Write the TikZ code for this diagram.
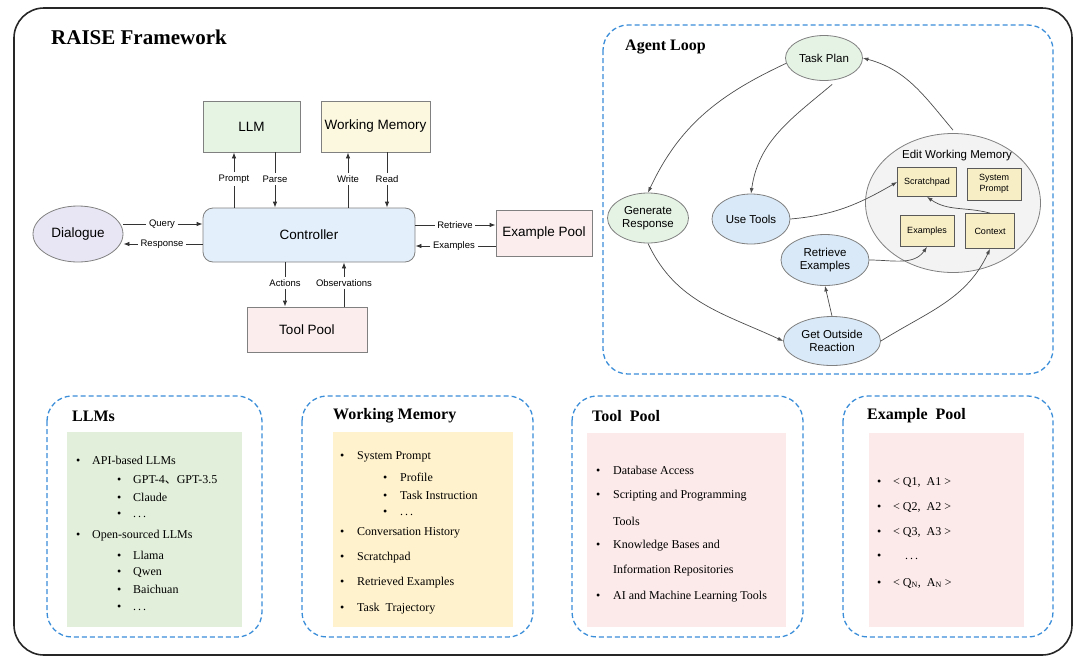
\documentclass[tikz,border=0pt]{standalone}
\usepackage{fontspec}
\setmainfont{Liberation Serif}
\setsansfont{Liberation Sans}
\newfontfamily\cjk{Noto Sans CJK SC}
\usepackage{tikz}
\usetikzlibrary{arrows.meta,shapes.geometric}

\definecolor{PanelBlue}{HTML}{3A8DD8}
\definecolor{LLMGreen}{HTML}{E6F4E4}
\definecolor{WMYellow}{HTML}{FBF8DF}
\definecolor{CtrlBlue}{HTML}{E3EFFA}
\definecolor{DlgPurple}{HTML}{E8E6F4}
\definecolor{PoolPink}{HTML}{FBEDED}
\definecolor{PlanGreen}{HTML}{E5F3E5}
\definecolor{StepBlue}{HTML}{D9E9F7}
\definecolor{MemGray}{HTML}{F3F3F3}
\definecolor{MemTan}{HTML}{F8EEC6}
\definecolor{ListGreen}{HTML}{E2EFDA}
\definecolor{ListYellow}{HTML}{FFF2CC}
\definecolor{ListPink}{HTML}{FCE9E9}

\begin{document}
\begin{tikzpicture}[x=1pt,y=1pt,
    box/.style={draw=gray,line width=0.8pt,inner sep=0pt,font=\sffamily\fontsize{13.5}{15}\selectfont},
    lbl/.style={font=\sffamily\fontsize{9.5}{11}\selectfont,inner sep=2.5pt},
    arr/.style={-{Latex[length=6pt,width=4.5pt]},line width=0.8pt,draw=black!80},
    con/.style={line width=0.8pt,draw=black!80},
    stepnode/.style={ellipse,draw=gray,line width=0.8pt,inner sep=0pt,align=center,font=\sffamily\fontsize{11.5}{13}\selectfont},
    membox/.style={draw=black!65,fill=MemTan,line width=0.8pt,inner sep=0pt,align=center,font=\sffamily\fontsize{9}{10.5}\selectfont},
    flow/.style={-{Latex[length=5.5pt,width=4pt]},line width=0.7pt,draw=black!70},
    panel/.style={draw=PanelBlue,line width=1.3pt,dash pattern=on 5pt off 3pt,rounded corners=25pt},
    ptitle/.style={anchor=west,inner sep=0pt,font=\bfseries\fontsize{16}{18}\selectfont},
    item/.style={anchor=west,inner sep=0pt,font=\fontsize{12}{14}\selectfont}]
    \useasboundingbox (0,0) rectangle (1080,-665);
    \draw[line width=1.6pt,draw=black!85,rounded corners=30pt] (14,-8) rectangle (1072,-655);
    \node[anchor=west,inner sep=0pt,font=\bfseries\fontsize{21}{24}\selectfont] (title) at (51,-37) {RAISE Framework};

    % controller part
    \node[box,fill=LLMGreen,minimum width=97pt,minimum height=51pt] (llm) at (251.5,-126.5) {LLM};
    \node[box,fill=WMYellow,minimum width=109pt,minimum height=51pt] (wm) at (375.5,-126.5) {Working Memory};
    \node[box,fill=CtrlBlue,minimum width=212pt,minimum height=54pt,rounded corners=10pt] (ctrl) at (309,-235) {Controller};
    \node[ellipse,draw=gray,line width=0.8pt,fill=DlgPurple,minimum width=90pt,minimum height=56pt,inner sep=0pt,font=\sffamily\fontsize{13.5}{15}\selectfont] (dlg) at (78,-234) {Dialogue};
    \node[box,fill=PoolPink,minimum width=96pt,minimum height=46pt] (expool) at (544,-233.5) {Example Pool};
    \node[box,fill=PoolPink,minimum width=120pt,minimum height=45pt] (tool) at (307,-329.5) {Tool Pool};

    \node[lbl] (prompt) at (234,-179) {Prompt};
    \node[lbl] (parse) at (275,-179) {Parse};
    \node[lbl] (write) at (348,-179) {Write};
    \node[lbl] (read) at (387,-179) {Read};
    \node[lbl] (query) at (162,-224) {Query};
    \node[lbl] (resp) at (162,-244) {Response};
    \node[lbl] (retr) at (455,-225) {Retrieve};
    \node[lbl] (exs) at (454,-246) {Examples};
    \node[lbl] (act) at (285,-283) {Actions};
    \node[lbl] (obs) at (344,-283) {Observations};

    \draw[con] (prompt |- ctrl.north) -- (prompt);
    \draw[arr] (prompt) -- (prompt |- llm.south);
    \draw[con] (parse |- llm.south) -- (parse);
    \draw[arr] (parse) -- (parse |- ctrl.north);
    \draw[con] (write |- ctrl.north) -- (write);
    \draw[arr] (write) -- (write |- wm.south);
    \draw[con] (read |- wm.south) -- (read);
    \draw[arr] (read) -- (read |- ctrl.north);
    \draw[con] (query -| dlg.east) -- (query);
    \draw[arr] (query) -- (query -| ctrl.west);
    \draw[con] (resp -| ctrl.west) -- (resp);
    \draw[arr] (resp) -- (resp -| dlg.east);
    \draw[con] (retr -| ctrl.east) -- (retr);
    \draw[arr] (retr) -- (retr -| expool.west);
    \draw[con] (exs -| expool.west) -- (exs);
    \draw[arr] (exs) -- (exs -| ctrl.east);
    \draw[con] (act |- ctrl.south) -- (act);
    \draw[arr] (act) -- (act |- tool.north);
    \draw[con] (obs |- tool.north) -- (obs);
    \draw[arr] (obs) -- (obs |- ctrl.south);

    % agent loop
    \draw[panel] (603,-25) rectangle (1053,-374);
    \node[ptitle] (looptitle) at (625,-47) {Agent Loop};
    \node[stepnode,fill=PlanGreen,minimum width=77pt,minimum height=45pt] (tp) at (824,-58) {Task Plan};
    \node[stepnode,fill=PlanGreen,minimum width=81pt,minimum height=50pt] (gr) at (648,-218) {Generate\\Response};
    \node[stepnode,fill=StepBlue,minimum width=78pt,minimum height=50pt] (ut) at (751,-219) {Use Tools};
    \node[stepnode,fill=StepBlue,minimum width=88pt,minimum height=51pt] (re) at (825,-260) {Retrieve\\Examples};
    \node[stepnode,fill=StepBlue,minimum width=97pt,minimum height=49pt] (gor) at (832,-341) {Get Outside\\Reaction};
    \node[ellipse,draw=gray,line width=0.8pt,fill=MemGray,minimum width=175pt,minimum height=139pt] (ewm) at (953,-203) {};
    \node[font=\sffamily\fontsize{11.5}{13}\selectfont,inner sep=0pt] (ewmlbl) at (957,-156) {Edit Working Memory};
    \node[membox,minimum width=59pt,minimum height=29pt] (sp) at (927,-182) {Scratchpad};
    \node[membox,minimum width=54pt,minimum height=32pt] (sysp) at (994,-184) {System\\Prompt};
    \node[membox,minimum width=54pt,minimum height=31pt] (exm) at (927,-231) {Examples};
    \node[membox,minimum width=49pt,minimum height=35pt] (ctx) at (990,-231) {Context};

    \draw[flow] (tp.188) to[out=205,in=65] (gr.north);
    \draw[flow] ([yshift=-4pt]tp.290) to[out=220,in=82] (ut.north);
    \draw[flow] ([yshift=3pt]ewm.north) to[out=130,in=-15] (tp.east);
    \draw[flow] (ut.east) to[out=5,in=210] (sp.west);
    \draw[flow] (ctx.north) to[out=165,in=-35] (sp.south);
    \draw[flow] (re.east) to[out=0,in=235] (exm.south);
    \draw[flow] (gor.north) -- (re.south);
    \draw[flow] (gor.east) to[out=32,in=245] (ctx.south);
    \draw[flow] (gr.south) to[out=-65,in=155] (gor.west);

    % bottom panels
    \draw[panel] (47,-396) rectangle (262,-637);
    \draw[panel] (302,-396) rectangle (533,-637);
    \draw[panel] (572,-396) rectangle (803,-637);
    \draw[panel] (843,-396) rectangle (1053,-637);
    \fill[ListGreen] (67,-432) rectangle (242,-627);
    \fill[ListYellow] (333,-432) rectangle (513,-627);
    \fill[ListPink] (587,-433) rectangle (786,-627);
    \fill[ListPink] (869,-433) rectangle (1024,-627);
    \node[ptitle] (llmst) at (72,-416) {LLMs};
    \node[ptitle] (wmt) at (333,-416) {Working Memory};
    \node[ptitle] (toolt) at (592,-416) {Tool\ \ Pool};
    \node[ptitle] (ext) at (867,-416) {Example\ \ Pool};

    \foreach \y/\l/\t [count=\i] in {460/0/{API-based LLMs},480/1/{GPT-4{\cjk 、}GPT-3.5},497/1/Claude,515/1/{.\,.\,.},536/0/{Open-sourced LLMs},555/1/Llama,572/1/Qwen,589/1/Baichuan,608/1/{.\,.\,.}}
        \node[item] (llmi\i) at ({76+41*\l},-\y) {\makebox[16pt][l]{•}\t};
    \foreach \y/\l/\t [count=\i] in {457/0/{System Prompt},477/1/Profile,495/1/{Task Instruction},513/1/{.\,.\,.},533/0/{Conversation History},558/0/Scratchpad,583/0/{Retrieved Examples},609/0/{Task\ \ Trajectory}}
        \node[item] (wmi\i) at ({340+43*\l},-\y) {\makebox[17pt][l]{•}\t};
    \foreach \y/\t [count=\i] in {470/{Database Access},496/{Scripting and Programming},546/{Knowledge Bases and},597/{AI and Machine Learning Tools}}
        \node[item] (tooli\i) at (596,-\y) {\makebox[17pt][l]{•}\t};
    \node[item] (toolc1) at (613,-521) {Tools};
    \node[item] (toolc2) at (613,-571) {Information Repositories};
    \foreach \y/\t [count=\i] in {482/{< Q1,\ \ A1 >},507/{< Q2,\ \ A2 >},532/{< Q3,\ \ A3 >},557/{\hspace{12pt}.\,.\,.},583/{< Q\textsubscript{N},\ \ A\textsubscript{N} >}}
        \node[item] (exi\i) at (877,-\y) {\makebox[16pt][l]{•}\t};
\end{tikzpicture}
\end{document}
